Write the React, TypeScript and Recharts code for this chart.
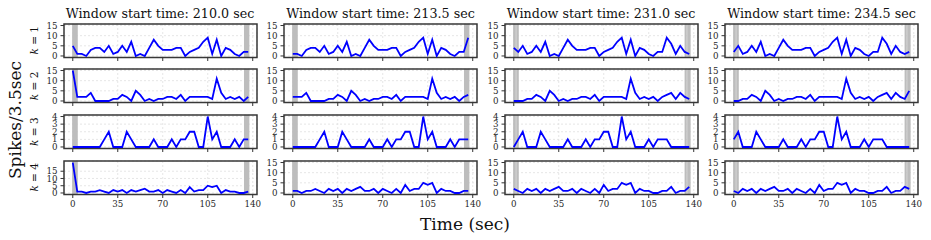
import React from "react";
import {
  CartesianGrid,
  Line,
  LineChart,
  ReferenceArea,
  XAxis,
  YAxis,
} from "recharts";

// bin centres within each window (sec)
const times = [
  0, 3.5, 7, 10.5, 14, 17.5, 21, 24.5, 28, 31.5, 35, 38.5, 42, 45.5, 49, 52.5,
  56, 59.5, 63, 66.5, 70, 73.5, 77, 80.5, 84, 87.5, 91, 94.5, 98, 101.5, 105,
  108.5, 112, 115.5, 119, 122.5, 126, 129.5, 133, 136.5,
];

const windowStarts = ["210.0", "213.5", "231.0", "234.5"];
const kValues = ["1", "2", "3", "4"];
const xTicks = [0, 35, 70, 105, 140];
const countTicks = [0, 5, 10, 15];
const smallCountTicks = [0, 1, 2, 3, 4];

// spikes per 3.5 s bin, window start 210.0 s
const w210k1 = [5, 1, 1, 0, 3, 4, 4, 2, 5, 1, 2, 5, 2, 7, 0, 1, 0, 4, 8, 5, 3, 3, 3, 4, 4, 0, 2, 3, 4, 7, 9, 1, 8, 0, 4, 3, 1, 0, 2, 2];
const w210k2 = [15, 2, 2, 2, 4, 0, 0, 0, 0, 1, 1, 3, 2, 0, 5, 3, 0, 1, 0, 1, 1, 2, 2, 1, 3, 0, 2, 2, 2, 2, 2, 1, 11, 4, 1, 2, 1, 2, 0, 2];
const w210k3 = [0, 0, 0, 0, 0, 0, 0, 1, 2, 0, 0, 0, 2, 1, 0, 0, 0, 0, 1, 0, 0, 0, 1, 0, 1, 1, 2, 2, 0, 0, 4, 1, 2, 0, 0, 0, 1, 0, 1, 1];
const w210k4 = [21, 1, 1, 0, 1, 1, 2, 1, 0, 2, 1, 2, 0, 2, 1, 2, 3, 1, 1, 2, 0, 2, 1, 0, 2, 0, 4, 1, 2, 2, 5, 4, 5, 0, 2, 1, 1, 0, 0, 1];

// window start 213.5 s
const w213k1 = [1, 1, 0, 3, 4, 4, 2, 5, 1, 2, 5, 2, 7, 0, 1, 0, 4, 8, 5, 3, 3, 3, 4, 4, 0, 2, 3, 4, 7, 9, 1, 8, 0, 4, 3, 1, 0, 2, 2, 9];
const w213k2 = [2, 2, 2, 4, 0, 0, 0, 0, 1, 1, 3, 2, 0, 5, 3, 0, 1, 0, 1, 1, 2, 2, 1, 3, 0, 2, 2, 2, 2, 2, 1, 11, 4, 1, 2, 1, 2, 0, 2, 3];
const w213k3 = [0, 0, 0, 0, 0, 0, 1, 2, 0, 0, 0, 2, 1, 0, 0, 0, 0, 1, 0, 0, 0, 1, 0, 1, 1, 2, 2, 0, 0, 4, 1, 2, 0, 0, 0, 1, 0, 1, 1, 1];
const w213k4 = [1, 1, 0, 1, 1, 2, 1, 0, 2, 1, 2, 0, 2, 1, 2, 3, 1, 1, 2, 0, 2, 1, 0, 2, 0, 4, 1, 2, 2, 5, 4, 5, 0, 2, 1, 1, 0, 0, 1, 1];

// window start 231.0 s
const w231k1 = [4, 2, 5, 1, 2, 5, 2, 7, 0, 1, 0, 4, 8, 5, 3, 3, 3, 4, 4, 0, 2, 3, 4, 7, 9, 1, 8, 0, 4, 3, 1, 0, 2, 2, 9, 6, 1, 5, 2, 1];
const w231k2 = [0, 0, 0, 1, 1, 3, 2, 0, 5, 3, 0, 1, 0, 1, 1, 2, 2, 1, 3, 0, 2, 2, 2, 2, 2, 1, 11, 4, 1, 2, 1, 2, 0, 2, 3, 4, 1, 4, 2, 1];
const w231k3 = [0, 1, 2, 0, 0, 0, 2, 1, 0, 0, 0, 0, 1, 0, 0, 0, 1, 0, 1, 1, 2, 2, 0, 0, 4, 1, 2, 0, 0, 0, 1, 0, 1, 1, 1, 0, 0, 0, 0, 0];
const w231k4 = [2, 1, 0, 2, 1, 2, 0, 2, 1, 2, 3, 1, 1, 2, 0, 2, 1, 0, 2, 0, 4, 1, 2, 2, 5, 4, 5, 0, 2, 1, 1, 0, 0, 1, 1, 3, 0, 1, 1, 3];

// window start 234.5 s
const w234k1 = [2, 5, 1, 2, 5, 2, 7, 0, 1, 0, 4, 8, 5, 3, 3, 3, 4, 4, 0, 2, 3, 4, 7, 9, 1, 8, 0, 4, 3, 1, 0, 2, 2, 9, 6, 1, 5, 2, 1, 2];
const w234k2 = [0, 0, 1, 1, 3, 2, 0, 5, 3, 0, 1, 0, 1, 1, 2, 2, 1, 3, 0, 2, 2, 2, 2, 2, 1, 11, 4, 1, 2, 1, 2, 0, 2, 3, 4, 1, 4, 2, 1, 5];
const w234k3 = [1, 2, 0, 0, 0, 2, 1, 0, 0, 0, 0, 1, 0, 0, 0, 1, 0, 1, 1, 2, 2, 0, 0, 4, 1, 2, 0, 0, 0, 1, 0, 1, 1, 1, 0, 0, 0, 0, 0, 0];
const w234k4 = [1, 0, 2, 1, 2, 0, 2, 1, 2, 3, 1, 1, 2, 0, 2, 1, 0, 2, 0, 4, 1, 2, 2, 5, 4, 5, 0, 2, 1, 1, 0, 0, 1, 1, 3, 0, 1, 1, 3, 2];

// gray shaded spans (sec, relative to window start)
const shades210 = [[-0.5, 3.9], [133.2, 137.4]];
const shades213 = [[-0.5, 3.9], [133.2, 137.4]];
const shades231 = [[-0.5, 1.6], [1.9, 3.9], [132.9, 134.6], [134.9, 137.6]];
const shades234 = [[-0.5, 1.6], [1.9, 3.9], [132.9, 134.6], [134.9, 137.6]];

const grid = [
  [w210k1, w210k2, w210k3, w210k4],
  [w213k1, w213k2, w213k3, w213k4],
  [w231k1, w231k2, w231k3, w231k4],
  [w234k1, w234k2, w234k3, w234k4],
];
const shades = [shades210, shades213, shades231, shades234];

const SERIF = '"DejaVu Serif", serif';
const X_DOMAIN: [number, number] = [-6.825, 143.325];
const PLOT_W = 193;
const PLOT_H = 33.5;
const Y_W = 36;
const X_H = 22;
const TOP_PAD = 6;
const COL_LEFT = [63.5, 284, 504.5, 725];
const ROW_TOP = [23.5, 69.2, 114.9, 160.6];

function yDomainFor(col: number, row: number): [number, number] {
  if (row === 2) return [-0.2, 4.2];
  if (row === 3 && col === 0) return [-1.05, 22.05];
  return [-0.75, 15.75];
}

type PanelProps = {
  values: number[];
  yDomain: [number, number];
  yTicks: number[];
  showXLabels: boolean;
  spans: number[][];
};

function Panel({ values, yDomain, yTicks, showXLabels, spans }: PanelProps) {
  const data = times.map((t, i) => ({ t, v: values[i] }));
  const tickStyle = { fill: "#262626", fontSize: 8.7, fontFamily: SERIF };
  return (
    <LineChart
      width={Y_W + PLOT_W + 8}
      height={TOP_PAD + PLOT_H + X_H}
      data={data}
      margin={{ top: TOP_PAD, right: 8, bottom: 0, left: 0 }}
    >
      <CartesianGrid stroke="#e0e0e0" strokeDasharray="2 2" strokeWidth={0.8} />
      {spans.map(([a, b], i) => (
        <ReferenceArea
          key={`shade-${i}`}
          x1={a}
          x2={b}
          fill="#bdbdbd"
          fillOpacity={1}
          stroke="none"
          ifOverflow="hidden"
        />
      ))}
      <XAxis
        dataKey="t"
        type="number"
        domain={X_DOMAIN}
        ticks={xTicks}
        interval={0}
        allowDataOverflow
        height={X_H}
        axisLine={false}
        tickLine={{ stroke: "#333" }}
        tickSize={3.5}
        tickMargin={3}
        tick={tickStyle}
        tickFormatter={showXLabels ? (v) => String(v) : () => ""}
      />
      <YAxis
        type="number"
        domain={yDomain}
        ticks={yTicks}
        interval={0}
        allowDataOverflow
        width={Y_W}
        axisLine={false}
        tickLine={{ stroke: "#333" }}
        tickSize={3.5}
        tickMargin={3}
        tick={tickStyle}
      />
      <Line
        type="linear"
        dataKey="v"
        stroke="#0000ff"
        strokeWidth={1.8}
        dot={false}
        activeDot={false}
        isAnimationActive={false}
      />
      <ReferenceArea
        x1={X_DOMAIN[0]}
        x2={X_DOMAIN[1]}
        y1={yDomain[0]}
        y2={yDomain[1]}
        fill="none"
        stroke="#383838"
        strokeWidth={1.5}
        ifOverflow="visible"
      />
    </LineChart>
  );
}

export default function App() {
  return (
    <div
      style={{
        position: "absolute",
        left: 0,
        top: 0,
        width: 931,
        height: 240,
        background: "#fff",
        overflow: "hidden",
      }}
    >
      {grid.map((col, c) =>
        col.map((values, r) => (
          <div
            key={`p-${c}-${r}`}
            style={{
              position: "absolute",
              left: COL_LEFT[c] - Y_W,
              top: ROW_TOP[r] - TOP_PAD,
            }}
          >
            <Panel
              values={values}
              yDomain={yDomainFor(c, r)}
              yTicks={r === 2 ? smallCountTicks : countTicks}
              showXLabels={r === 3}
              spans={shades[c]}
            />
          </div>
        ))
      )}
      <svg
        width={931}
        height={240}
        style={{ position: "absolute", left: 0, top: 0, pointerEvents: "none" }}
      >
        {windowStarts.map((w, c) => (
          <text
            key={`title-${c}`}
            x={COL_LEFT[c] + PLOT_W / 2}
            y={17.5}
            textAnchor="middle"
            fontFamily={SERIF}
            fontSize={12.7}
            fill="#111"
          >
            {`Window start time: ${w} sec`}
          </text>
        ))}
        {kValues.map((k, r) => (
          <text
            key={`k-${r}`}
            transform={`translate(37.5, ${ROW_TOP[r] + PLOT_H / 2}) rotate(-90)`}
            textAnchor="middle"
            fontFamily={SERIF}
            fontSize={10.5}
            fill="#111"
          >
            <tspan fontStyle="italic">k</tspan>
            {` = ${k}`}
          </text>
        ))}
        <text
          transform="translate(20.8, 120) rotate(-90)"
          textAnchor="middle"
          fontFamily={SERIF}
          fontSize={17}
          fill="#111"
        >
          Spikes/3.5sec
        </text>
        <text
          x={465}
          y={229.5}
          textAnchor="middle"
          fontFamily={SERIF}
          fontSize={17}
          fill="#111"
        >
          Time (sec)
        </text>
      </svg>
    </div>
  );
}
